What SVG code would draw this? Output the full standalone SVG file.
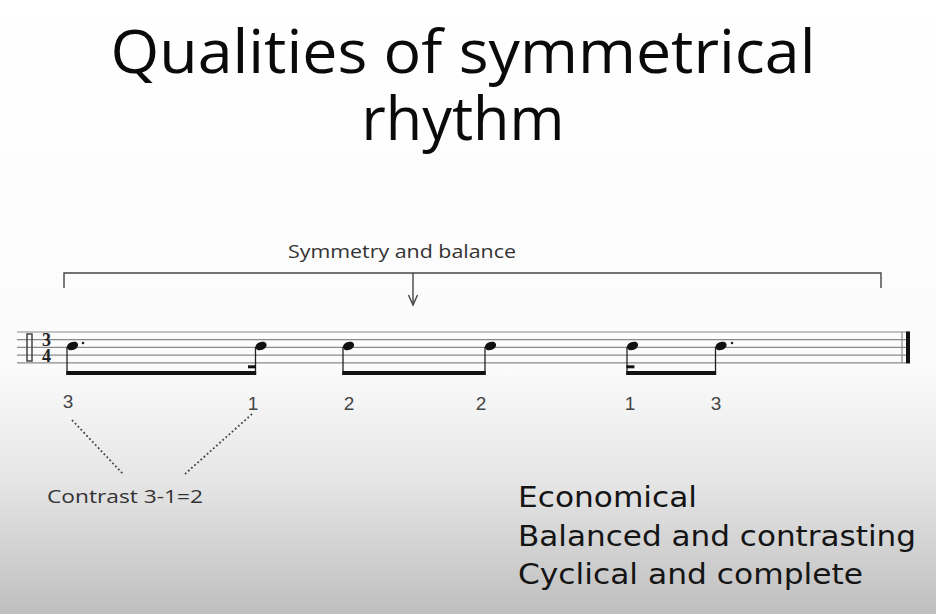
<svg xmlns="http://www.w3.org/2000/svg" width="936" height="614" viewBox="0 0 936 614">
  <defs>
    <linearGradient id="bg" x1="0" y1="0" x2="0" y2="614" gradientUnits="userSpaceOnUse">
      <stop offset="0" stop-color="#ffffff"/>
      <stop offset="0.6" stop-color="#fbfbfb"/>
      <stop offset="0.78" stop-color="#e6e6e7"/>
      <stop offset="1" stop-color="#bfbfc0"/>
    </linearGradient>
    <style>
      .title { font-family: "Open Sans", "DejaVu Sans", sans-serif; font-size: 60px; fill: #0a0a0a; }
      .item { font-family: "DejaVu Sans", "Liberation Sans", sans-serif; font-size: 29px; fill: #151515; }
      .lbl { font-family: "Open Sans", "Liberation Sans", sans-serif; font-size: 19px; fill: #333; }
      .num { font-family: "Liberation Sans", "Open Sans", sans-serif; font-size: 19px; fill: #444; text-anchor: middle; }
      .staff line { stroke: #8a8a8a; stroke-width: 1.2; }
      .stem { stroke: #222; stroke-width: 1.3; }
      .head { fill: #111; }
      .ts { font-family: "Liberation Serif", serif; font-weight: bold; font-size: 18px; fill: #222; text-anchor: middle; }
    </style>
  </defs>
  <rect x="0" y="0" width="936" height="614" fill="url(#bg)"/>

  <g id="title">
    <text class="title" x="463" y="73" text-anchor="middle" textLength="705" lengthAdjust="spacingAndGlyphs">Qualities of symmetrical</text>
    <text class="title" x="463" y="140" text-anchor="middle" textLength="203" lengthAdjust="spacingAndGlyphs">rhythm</text>
  </g>

  <g id="symmetry-label">
    <text class="lbl" x="288" y="258" textLength="228" lengthAdjust="spacingAndGlyphs">Symmetry and balance</text>
  </g>

  <g id="connectors" fill="none" stroke="#444" stroke-width="1.4">
    <path d="M64,288 V273 H881 V288"/>
    <line x1="413" y1="273" x2="413" y2="305"/>
    <polyline points="408.5,295 413,305 417.5,295"/>
    <line x1="72" y1="420" x2="123" y2="474" stroke="#444" stroke-width="1.8" stroke-dasharray="1.8 2.4"/>
    <line x1="252" y1="414" x2="185" y2="474" stroke="#444" stroke-width="1.8" stroke-dasharray="1.8 2.4"/>
  </g>

  <g id="staff" class="staff">
    <line x1="17" y1="332" x2="910" y2="332"/>
    <line x1="17" y1="339.7" x2="910" y2="339.7"/>
    <line x1="17" y1="347.4" x2="910" y2="347.4"/>
    <line x1="17" y1="355.1" x2="910" y2="355.1"/>
    <line x1="17" y1="362.8" x2="910" y2="362.8"/>
    <rect x="27" y="334" width="5" height="27" fill="none" stroke="#444" stroke-width="1.5"/>
    <text class="ts" x="46.5" y="346">3</text>
    <text class="ts" x="46.5" y="362">4</text>
    <line x1="902" y1="332" x2="902" y2="362.8" stroke="#333" stroke-width="1.2"/>
    <rect x="906" y="331.5" width="4" height="31.8" fill="#111"/>
  </g>

  <g id="group1">
    <ellipse class="head" cx="72.5" cy="346" rx="5.8" ry="4.1" transform="rotate(-20 72.5 346)"/>
    <circle cx="83" cy="343" r="1.3" fill="#222"/>
    <line class="stem" x1="67" y1="347" x2="67" y2="375"/>
    <ellipse class="head" cx="261" cy="346" rx="5.8" ry="4.1" transform="rotate(-20 261 346)"/>
    <line class="stem" x1="255.5" y1="347" x2="255.5" y2="375"/>
    <rect x="66.4" y="371" width="189.7" height="4" fill="#111"/>
    <rect x="248" y="365.3" width="8" height="3" fill="#111"/>
  </g>

  <g id="group2">
    <ellipse class="head" cx="348.5" cy="346" rx="5.8" ry="4.1" transform="rotate(-20 348.5 346)"/>
    <line class="stem" x1="343" y1="347" x2="343" y2="375"/>
    <ellipse class="head" cx="490.5" cy="346" rx="5.8" ry="4.1" transform="rotate(-20 490.5 346)"/>
    <line class="stem" x1="485" y1="347" x2="485" y2="375"/>
    <rect x="342.4" y="371" width="143.2" height="4" fill="#111"/>
  </g>

  <g id="group3">
    <ellipse class="head" cx="632.5" cy="346" rx="5.8" ry="4.1" transform="rotate(-20 632.5 346)"/>
    <line class="stem" x1="627" y1="347" x2="627" y2="375"/>
    <ellipse class="head" cx="721" cy="346" rx="5.8" ry="4.1" transform="rotate(-20 721 346)"/>
    <circle cx="732" cy="343" r="1.3" fill="#222"/>
    <line class="stem" x1="715.5" y1="347" x2="715.5" y2="375"/>
    <rect x="626.4" y="371" width="89.7" height="4" fill="#111"/>
    <rect x="626.4" y="365.3" width="8" height="3" fill="#111"/>
  </g>

  <g id="counts">
    <text class="num" x="68" y="408">3</text>
    <text class="num" x="253" y="410">1</text>
    <text class="num" x="349" y="410">2</text>
    <text class="num" x="481" y="410">2</text>
    <text class="num" x="630" y="410">1</text>
    <text class="num" x="716" y="410">3</text>
  </g>

  <g id="contrast-label">
    <text class="lbl" x="47" y="503" style="font-size:18px" textLength="156" lengthAdjust="spacingAndGlyphs">Contrast 3-1=2</text>
  </g>

  <g id="qualities">
    <text class="item" x="518" y="507" textLength="179" lengthAdjust="spacingAndGlyphs">Economical</text>
    <text class="item" x="518" y="546" textLength="398" lengthAdjust="spacingAndGlyphs">Balanced and contrasting</text>
    <text class="item" x="518" y="584" textLength="345" lengthAdjust="spacingAndGlyphs">Cyclical and complete</text>
  </g>
</svg>
